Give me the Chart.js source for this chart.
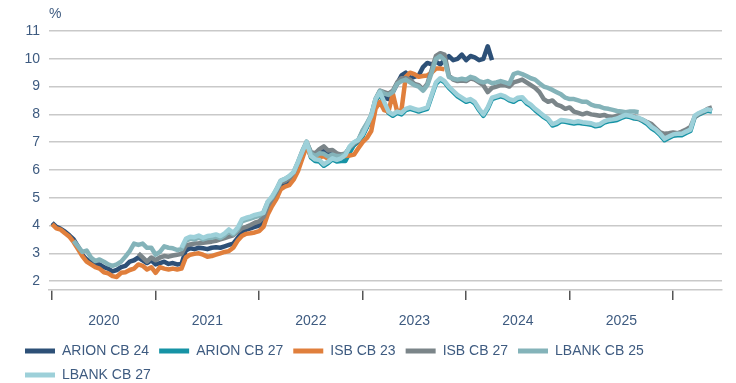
<!DOCTYPE html>
<html>
<head>
<meta charset="utf-8">
<script src="https://cdn.jsdelivr.net/npm/chart.js@4.4.1/dist/chart.umd.min.js"></script>
<style>
  html, body { margin: 0; padding: 0; background: #fff; }
  #wrap { position: relative; width: 736px; height: 383px; }
</style>
</head>
<body>
<div id="wrap"><canvas id="chart"></canvas></div>
<script>
// half-month observations from Jan 2020
const periodCount = 154;
const periods = Array.from({ length: periodCount }, (_, i) => 2020 + i / 24);

const yearTicks = [2020, 2021, 2022, 2023, 2024, 2025, 2026];
const yearLabels = [2020.5, 2021.5, 2022.5, 2023.5, 2024.5, 2025.5];
const yTicks = [2, 3, 4, 5, 6, 7, 8, 9, 10, 11];

const seriesNames = ['ARION CB 24', 'ARION CB 27', 'ISB CB 23', 'ISB CB 27', 'LBANK CB 25', 'LBANK CB 27'];
const seriesColors = ['#2d5077', '#1693a5', '#e07f3c', '#7b8589', '#84b3b9', '#9dd0d9'];
// index of the first observation of each bond
const seriesStart = [0, 48, 0, 20, 5, 30];

const arionCb24 = [
  4.1, 3.95, 3.88, 3.78, 3.65, 3.5, 3.25, 2.95, 2.78, 2.68, 2.6, 2.6, 2.5, 2.45, 2.35, 2.4, 2.5, 2.55, 2.7, 2.75, 2.85, 2.75, 2.65, 2.75, 2.6,
  2.65, 2.7, 2.62, 2.65, 2.6, 2.62, 3.1, 3.18, 3.15, 3.2, 3.18, 3.15, 3.2, 3.22, 3.2, 3.25, 3.3, 3.35, 3.55, 3.75, 3.85, 3.9, 3.95, 4.0,
  4.2, 4.55, 4.85, 5.1, 5.45, 5.5, 5.55, 5.8, 6.15, 6.55, 6.95, 6.55, 6.5, 6.6, 6.7, 6.6, 6.55, 6.5, 6.45, 6.55, 6.75, 6.9, 7.05, 7.25,
  7.55, 7.9, 8.5, 8.75, 8.6, 8.55, 8.8, 9.1, 9.4, 9.5, 9.3, 9.35, 9.4, 9.7, 9.85, 9.8, 9.9, 9.8, 9.95, 10.1, 9.95, 10.0, 10.15, 9.95,
  10.1, 10.05, 9.95, 10.0, 10.45, 9.95
];
const arionCb27 = [
  4.35, 4.4, 4.8, 5.0, 5.25, 5.55, 5.62, 5.72, 5.88, 6.22, 6.6, 6.95, 6.45, 6.32, 6.3, 6.15, 6.25, 6.38, 6.3, 6.32, 6.32, 6.62, 6.9, 7.02, 7.22,
  7.55, 7.9, 8.5, 8.75, 8.4, 8.05, 7.95, 8.05, 8.0, 8.15, 8.2, 8.15, 8.1, 8.15, 8.2, 8.65, 9.1, 9.25, 9.15, 8.95, 8.8, 8.65, 8.55, 8.45,
  8.5, 8.4, 8.15, 7.95, 8.2, 8.55, 8.6, 8.65, 8.6, 8.5, 8.45, 8.55, 8.57, 8.4, 8.3, 8.15, 8.02, 7.9, 7.8, 7.6, 7.65, 7.75, 7.73, 7.7,
  7.67, 7.7, 7.67, 7.65, 7.63, 7.57, 7.6, 7.7, 7.75, 7.77, 7.8, 7.87, 7.93, 7.9, 7.85, 7.83, 7.75, 7.65, 7.5, 7.4, 7.25, 7.07, 7.15, 7.23,
  7.25, 7.25, 7.33, 7.4, 7.9, 8.0, 8.07, 8.13, 8.1
];
const isbCb23 = [
  4.05, 3.9, 3.85, 3.72, 3.6, 3.4, 3.15, 2.9, 2.7, 2.6, 2.5, 2.45, 2.32, 2.28, 2.18, 2.15, 2.3, 2.32, 2.4, 2.45, 2.6, 2.55, 2.42, 2.5, 2.3,
  2.5, 2.45, 2.42, 2.45, 2.42, 2.45, 2.85, 2.95, 2.98, 3.0, 2.95, 2.88, 2.9, 2.95, 3.0, 3.05, 3.08, 3.2, 3.45, 3.62, 3.7, 3.72, 3.75, 3.8,
  3.95, 4.4, 4.7, 4.95, 5.3, 5.4, 5.45, 5.65, 5.95, 6.4, 6.85, 6.5, 6.4, 6.45, 6.5, 6.4, 6.45, 6.5, 6.5, 6.5, 6.52, 6.55, 6.78, 7.0,
  7.15, 7.4, 8.2, 8.45, 8.15, 8.1, 8.75, 8.1, 8.15, 9.35, 9.5, 9.45, 9.35, 9.38, 9.4, 9.5, 9.65, 9.65, 9.62
];
const isbCb27 = [
  3.0, 2.85, 2.7, 2.85, 2.75,
  2.85, 2.9, 2.88, 2.92, 2.95, 2.98, 3.28, 3.32, 3.35, 3.36, 3.38, 3.4, 3.42, 3.45, 3.5, 3.55, 3.6, 3.65, 3.78, 3.9, 3.95, 4.02, 4.1, 4.15,
  4.3, 4.7, 4.95, 5.2, 5.55, 5.6, 5.7, 5.9, 6.25, 6.65, 7.0, 6.65, 6.6, 6.75, 6.85, 6.7, 6.72, 6.6, 6.55, 6.6, 6.8, 6.95, 7.05, 7.4,
  7.65, 7.95, 8.55, 8.85, 8.8, 8.75, 8.85, 9.15, 9.3, 9.3, 9.25, 9.1, 9.05, 8.9, 9.1, 9.6, 10.1, 10.2, 10.15, 9.4, 9.25, 9.2, 9.22, 9.2,
  9.3, 9.25, 9.15, 9.05, 8.8, 8.95, 9.0, 9.05, 9.05, 9.0, 9.15, 9.2, 9.25, 9.15, 9.05, 8.95, 8.8, 8.55, 8.45, 8.5, 8.35, 8.3, 8.2, 8.25,
  8.1, 8.05, 8.0, 8.05, 8.0, 7.98, 7.95, 7.98, 7.92, 7.9, 7.95, 8.0, 8.02, 7.95, 7.92, 7.85, 7.8, 7.72, 7.65, 7.5, 7.35, 7.3, 7.32, 7.35,
  7.32, 7.38, 7.45, 7.55, 7.9, 8.02, 8.1, 8.2, 8.25
];
const lbankCb25 = [
  3.45, 3.25, 3.05, 3.1, 2.85, 2.72, 2.78, 2.7, 2.6, 2.55, 2.6, 2.7, 2.88, 3.08, 3.35, 3.3, 3.35, 3.2, 3.2, 2.95,
  3.05, 3.25, 3.2, 3.18, 3.12, 3.15, 3.45, 3.52, 3.5, 3.56, 3.5, 3.55, 3.56, 3.6, 3.55, 3.65, 3.78, 3.68, 3.85, 4.15, 4.2, 4.25, 4.3, 4.35,
  4.48, 4.85, 5.0, 5.3, 5.62, 5.68, 5.78, 5.92, 6.28, 6.68, 7.02, 6.6, 6.5, 6.6, 6.58, 6.48, 6.55, 6.5, 6.5, 6.58, 6.82, 6.98, 7.08, 7.42,
  7.68, 7.98, 8.55, 8.85, 8.75, 8.7, 8.8, 9.1, 9.2, 9.25, 9.15, 9.05, 9.0, 8.85, 9.05, 9.5, 10.0, 10.1, 9.95, 9.35, 9.28, 9.25, 9.28, 9.25,
  9.35, 9.3, 9.2, 9.15, 9.2, 9.12, 9.15, 9.2, 9.15, 9.1, 9.45, 9.5, 9.45, 9.38, 9.3, 9.25, 9.12, 9.0, 8.95, 8.88, 8.8, 8.72, 8.6, 8.55,
  8.55, 8.5, 8.45, 8.45, 8.35, 8.3, 8.28, 8.22, 8.2, 8.16, 8.12, 8.1, 8.08, 8.1, 8.1, 8.08
];
const lbankCb27 = [
  3.2, 3.52, 3.6, 3.58, 3.64, 3.56, 3.62, 3.64, 3.68, 3.62, 3.72, 3.86, 3.74, 3.92, 4.22, 4.28, 4.32, 4.38, 4.42,
  4.45, 4.85, 5.05, 5.3, 5.6, 5.68, 5.78, 5.92, 6.28, 6.65, 7.0, 6.5, 6.38, 6.36, 6.2, 6.3, 6.42, 6.36, 6.42, 6.54, 6.85, 7.0, 7.08, 7.28,
  7.6, 7.95, 8.55, 8.8, 8.45, 8.1, 8.0, 8.1, 8.05, 8.2, 8.25, 8.2, 8.15, 8.2, 8.25, 8.7, 9.15, 9.3, 9.2, 9.0, 8.85, 8.7, 8.6, 8.5,
  8.55, 8.45, 8.2, 8.0, 8.25, 8.6, 8.65, 8.7, 8.65, 8.55, 8.5, 8.6, 8.62, 8.45, 8.35, 8.2, 8.08, 7.95, 7.85, 7.65, 7.7, 7.8, 7.78, 7.75,
  7.72, 7.75, 7.72, 7.7, 7.68, 7.62, 7.65, 7.75, 7.8, 7.82, 7.85, 7.92, 7.98, 7.95, 7.9, 7.88, 7.8, 7.7, 7.55, 7.45, 7.3, 7.12, 7.2, 7.28,
  7.3, 7.3, 7.38, 7.45, 7.95, 8.05, 8.12, 8.18, 8.15
];

const seriesValues = [arionCb24, arionCb27, isbCb23, isbCb27, lbankCb25, lbankCb27];

const textColor = '#3e5b80';
Chart.defaults.font.family = "'Liberation Sans', Arial, sans-serif";
Chart.defaults.font.size = 14;
Chart.defaults.color = textColor;

// place a series on the shared period axis, empty outside its life
function toPoints(values, start) {
  const pts = [];
  values.forEach((v, i) => pts.push({ x: periods[start + i], y: v }));
  return pts;
}

const datasets = seriesNames.map((name, k) => ({
  label: name,
  data: toPoints(seriesValues[k], seriesStart[k]),
  borderColor: seriesColors[k],
  backgroundColor: seriesColors[k],
  borderWidth: 4.5,
  borderJoinStyle: 'round',
  pointRadius: 0,
  tension: 0,
  fill: false,
  xAxisID: 'x',
  // later bonds are drawn over earlier ones
  order: seriesNames.length - 1 - k
}));

const percentLabel = {
  id: 'percentLabel',
  afterDraw(chart) {
    const ctx = chart.ctx;
    ctx.save();
    ctx.font = "14px 'Liberation Sans', Arial, sans-serif";
    ctx.fillStyle = textColor;
    ctx.textAlign = 'left';
    ctx.textBaseline = 'middle';
    ctx.fillText('%', chart.chartArea.left, 14);
    ctx.restore();
  }
};

new Chart(document.getElementById('chart'), {
  type: 'line',
  data: { datasets },
  options: {
    responsive: true,
    maintainAspectRatio: false,
    animation: false,
    layout: { padding: { left: 15, right: 14, top: 31, bottom: -9 } },
    plugins: {
      tooltip: { enabled: false },
      legend: {
        position: 'bottom',
        align: 'start',
        labels: {
          boxWidth: 30,
          boxHeight: 5,
          padding: 10,
          color: textColor,
          font: { size: 14 },
          sort: (a, b) => a.datasetIndex - b.datasetIndex,
          generateLabels(chart) {
            const items = Chart.defaults.plugins.legend.labels.generateLabels(chart);
            items.forEach(it => { it.lineWidth = 0; it.fillStyle = it.strokeStyle; });
            return items;
          }
        }
      }
    },
    scales: {
      x: {
        type: 'linear',
        position: 'bottom',
        min: 2019.97,
        max: 2026.472,
        afterBuildTicks: s => { s.ticks = yearTicks.map(v => ({ value: v })); },
        afterFit: s => { s.height = 10; },
        ticks: { display: false },
        grid: { drawOnChartArea: false, drawTicks: true, tickLength: 10, color: '#555', lineWidth: 1.5 },
        border: { display: true, color: '#c9c9c9', width: 1.5 }
      },
      x2: {
        type: 'linear',
        position: 'bottom',
        min: 2019.97,
        max: 2026.472,
        afterBuildTicks: s => { s.ticks = yearLabels.map(v => ({ value: v })); },
        afterFit: s => { s.height = 34; },
        ticks: {
          autoSkip: false,
          maxRotation: 0,
          padding: 5,
          color: textColor,
          callback: v => String(Math.floor(v))
        },
        grid: { display: false },
        border: { display: false }
      },
      y: {
        min: 1.68,
        max: 11,
        afterBuildTicks: s => { s.ticks = yTicks.map(v => ({ value: v })); },
        afterFit: s => { s.width = 34; },
        ticks: { padding: 9, color: textColor },
        grid: { color: '#c9c9c9', lineWidth: 1.5, drawTicks: false },
        border: { display: false }
      }
    }
  },
  plugins: [percentLabel]
});
</script>
</body>
</html>
